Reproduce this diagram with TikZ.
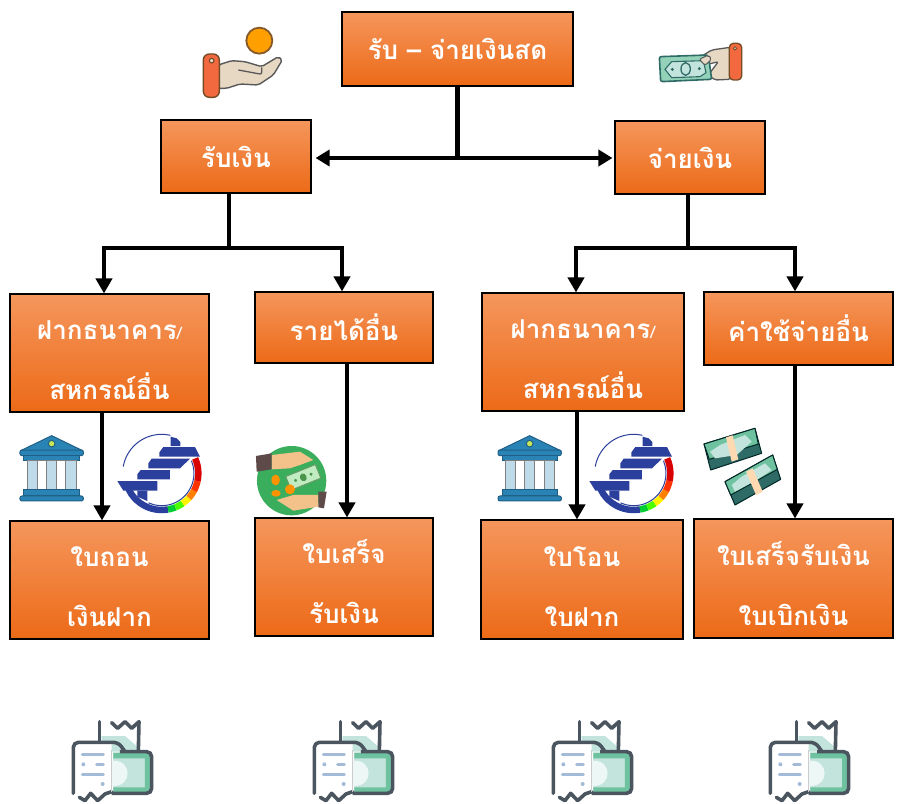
\documentclass[tikz,border=0pt]{standalone}
\usepackage{fontspec}
\usetikzlibrary{arrows.meta}
\newfontfamily\thaifont[Script=Thai]{Loma}
\definecolor{boxtop}{HTML}{F5965C}
\definecolor{boxbot}{HTML}{EC6A17}
\definecolor{ink}{HTML}{4A5560}
\definecolor{mint}{HTML}{6FC2A0}
\definecolor{palemint}{HTML}{C3E4DC}
\definecolor{navy}{HTML}{2B3F9C}
\definecolor{skin}{HTML}{E6D8C3}
\definecolor{cuff}{HTML}{F2693F}
\definecolor{bline}{HTML}{1F5F86}
\definecolor{bblue}{HTML}{2A83B5}
\definecolor{rline}{HTML}{A3BBD9}
\definecolor{givegreen}{HTML}{3AAE5C}
\definecolor{givehand}{HTML}{F2C28A}
\definecolor{givecuff}{HTML}{5E4A48}
\definecolor{billdark}{HTML}{2F6B66}
\tikzset{
  flowbox/.style={draw=black,line width=1.1pt,top color=boxtop,bottom color=boxbot,text=white,
    inner sep=0pt,align=center,font=\thaifont\bfseries\fontsize{26}{60}\selectfont},
  link/.style={line width=4.1pt,draw=black},
  flowarrow/.style={link,-{Triangle[length=15pt,width=16pt]}},
  biarrow/.style={link,{Triangle[length=14pt,width=16pt]}-{Triangle[length=14pt,width=16pt]}},
  zoomed/.style={x=0.3333pt,y=-0.3333pt}
}
\newcommand{\smallslash}{{\fontsize{17}{20}\selectfont\mdseries/}}
\newcommand{\lowerline}{\rule{0pt}{34pt}}
\newcommand{\receipticon}[2]{\begin{scope}[shift={(#1,#2)},zoomed]
  \fill[palemint] (155,125) -- (155,78) -- (225,78) -- (262,110) -- (262,125) -- cycle;
  \draw[ink,line width=3.6pt,line cap=round,line join=round] (148,35) -- (148,95);
  \draw[ink,line width=3.6pt,line cap=round,line join=round] (185,38) -- (203,55) -- (225,35) -- (245,55) -- (267,35) -- (265,125);
  \fill[palemint] (190,128) rectangle (300,248);
  \fill[mint] (190,128) -- (300,128) -- (300,248) -- (190,248) -- (190,232) -- (285,232) -- (285,145) -- (190,145) -- cycle;
  \fill[white!70!palemint] (195,190) circle[radius=38];
  \draw[ink,line width=3.6pt,rounded corners=5pt] (210,125) -- (305,125) -- (305,250) -- (185,250);
  \fill[white] (70,245) -- (70,97) -- (185,97) -- (185,245) -- (165,262) -- (90,265) -- cycle;
  \draw[ink,line width=3.6pt,line cap=round,line join=round,rounded corners=5pt] (70,250) -- (70,97) -- (205,97) -- (225,125);
  \draw[ink,line width=3.6pt,line cap=round,line join=round] (185,245) -- (165,252) -- (143,272) -- (122,250) -- (105,272) -- (88,262);
  \draw[gray!40,line width=0.8pt] (185,120) -- (185,245);
  \draw[rline,line width=3pt,line cap=round] (97,134) -- (160,134) (140,163) -- (160,163) (97,193) -- (160,193);
  \fill[rline] (100,163) circle[radius=6] (158,222) circle[radius=6];
\end{scope}}
\newcommand{\bankicon}[2]{\begin{scope}[shift={(#1,#2)},zoomed,draw=bline,line width=1pt]
  \filldraw[fill=bblue,line join=round] (155,47) -- (248,92) -- (62,92) -- cycle;
  \filldraw[fill=yellow!70!green!70!white] (155,71) circle[radius=10];
  \filldraw[fill=bblue,rounded corners=2pt] (60,90) rectangle (250,107);
  \filldraw[fill=bblue] (72,107) rectangle (238,122);
  \foreach \xa/\xb/\c in {82/112/bblue!30!white,112/140/white,140/170/bblue!30!white,170/198/white,198/230/bblue!30!white}
    {\filldraw[fill=\c,draw=gray] (\xa,122) rectangle (\xb,210);}
  \filldraw[fill=bblue] (72,210) rectangle (238,228);
  \filldraw[fill=bblue,rounded corners=2pt] (60,228) rectangle (250,243);
\end{scope}}
\newcommand{\logoarc}[6]{\draw[#6] plot[smooth,domain=#4:#5,samples=14,variable=\t] ({#1+#3*cos(\t)},{#2+#3*sin(\t)});}
\newcommand{\logoicon}[2]{\begin{scope}[shift={(#1,#2)},zoomed]
  \logoarc{485}{160}{117}{-77}{-170}{navy,line width=1pt}
  \logoarc{485}{160}{97}{114}{-23}{navy,line width=1pt}
  \foreach \a/\b/\c in {165/80/navy,80/68/green!60!teal,68/55/green!70!yellow,55/42/yellow,42/28/orange,28/12/red!60!orange,12/-24/red!85!black}
    {\logoarc{485}{160}{110}{\a}{\b}{\c,line width=6.5pt}}
  \fill[navy] (512,50) -- (530,55) -- (541,66) -- (541,78) -- (512,78) -- cycle;
  \fill[navy] (478,97) -- (490,81) -- (585,81) -- (600,110) -- (478,110) -- cycle;
  \fill[navy] (445,130) -- (455,116) -- (570,116) -- (540,145) -- (445,145) -- cycle;
  \fill[navy] (412,163) -- (422,150) -- (510,150) -- (510,178) -- (412,178) -- cycle;
  \fill[navy] (352,183) -- (472,183) -- (472,212) -- (370,212) -- cycle;
  \fill[navy] (412,212) -- (442,212) -- (442,243) -- (412,230) -- cycle;
\end{scope}}
\newcommand{\giveicon}[2]{\begin{scope}[shift={(#1,#2)},zoomed]
  \fill[givegreen] (875,182) circle[radius=104];
  \fill[givehand] (815,105) -- (900,95) -- (940,120) -- (900,135) -- (870,145) -- (815,148) -- cycle;
  \fill[givehand] (830,240) -- (880,225) -- (955,225) -- (955,260) -- (880,272) -- cycle;
  \fill[givecuff] (768,108) -- (815,100) -- (815,148) -- (770,155) -- cycle;
  \fill[givecuff] (955,215) -- (980,215) -- (972,265) -- (955,262) -- cycle;
  \begin{scope}[shift={(910,172)},rotate=22]
    \filldraw[fill=green!20!white!85!gray,draw=green!35!black!60,line width=1pt] (-48,-22) rectangle (48,22);
    \fill[green!40!black!70] (0,0) ellipse[x radius=10,y radius=12] (-25,0) circle[radius=5] (25,0) circle[radius=5];
  \end{scope}
  \fill[orange!85!yellow] (827,180) ellipse[x radius=13,y radius=16] (828,220) ellipse[x radius=14,y radius=10] (870,208) circle[radius=15];
\end{scope}}
\newcommand{\coinhand}[2]{\begin{scope}[shift={(#1,#2)},zoomed]
  \filldraw[fill=orange!75!yellow,draw=brown!70!black,line width=1.8pt] (208,92) circle[radius=39];
  \filldraw[fill=skin,draw=gray!70!black,line width=1.4pt,line join=round,rounded corners=2pt] (85,165) -- (125,152) -- (165,155) -- (215,170) -- (265,140) -- (277,150) -- (250,195) -- (205,225) -- (150,222) -- (110,235) -- (85,235) -- cycle;
  \draw[gray!70!black,line width=1.3pt,rounded corners=2pt] (145,180) -- (215,193) -- (215,172);
  \filldraw[fill=cuff,draw=brown!60!black,line width=1.4pt,rounded corners=6pt] (40,132) rectangle (88,262);
  \filldraw[fill=skin,draw=brown!60!black,line width=1.1pt] (65,152) circle[radius=7];
\end{scope}}
\newcommand{\cashhand}[2]{\begin{scope}[shift={(#1,#2)},zoomed]
  \filldraw[fill=skin,draw=gray!70!black,line width=1.3pt,rounded corners=2pt,line join=round] (270,52) -- (215,60) -- (175,85) -- (195,105) -- (235,95) -- (205,135) -- (225,150) -- (270,148) -- cycle;
  \filldraw[fill=mint!75!white,draw=billdark,line width=1.6pt,rounded corners=2pt] (58,80) -- (205,75) -- (215,148) -- (62,155) -- cycle;
  \draw[billdark,fill=palemint,line width=1.1pt] (75,118) -- (95,95) -- (190,92) -- (198,128) -- (180,140) -- (95,143) -- cycle;
  \draw[billdark,line width=1.3pt] (137,117) ellipse[x radius=14,y radius=19];
  \fill[billdark] (97,118) circle[radius=5] (178,116) circle[radius=5];
  \filldraw[fill=skin,draw=gray!70!black,line width=1pt,rounded corners=2pt] (178,88) -- (205,75) -- (215,88) -- (195,106) -- cycle;
  \filldraw[fill=cuff,draw=brown!60!black,line width=1.3pt,rounded corners=4pt] (268,40) rectangle (305,150);
  \filldraw[fill=skin,draw=brown!60!black,line width=0.8pt] (285,55) circle[radius=5];
\end{scope}}
\newcommand{\moneybundles}[2]{\begin{scope}[shift={(#1,#2)},zoomed,line join=round]
  \filldraw[fill=billdark,draw=black!70!teal,line width=1pt] (42,72) -- (62,150) -- (215,100) -- (195,25) -- cycle;
  \filldraw[fill=mint,draw=black!70!teal,line width=1pt] (42,72) -- (58,118) -- (205,72) -- (195,25) -- cycle;
  \fill[palemint] (60,95) -- (90,75) -- (165,45) -- (185,65) -- (140,105) -- (75,115) -- cycle;
  \fill[orange!30!white] (108,52) -- (128,46) -- (145,118) -- (125,125) -- cycle;
  \filldraw[fill=billdark,draw=black!70!teal,line width=1pt] (105,185) -- (135,255) -- (272,178) -- (248,105) -- cycle;
  \filldraw[fill=mint,draw=black!70!teal,line width=1pt] (105,185) -- (122,225) -- (262,148) -- (248,105) -- cycle;
  \fill[palemint] (125,195) -- (155,170) -- (225,130) -- (245,150) -- (200,180) -- (135,215) -- cycle;
  \fill[orange!30!white] (168,155) -- (188,145) -- (218,215) -- (198,225) -- cycle;
\end{scope}}
\begin{document}
\begin{tikzpicture}[x=1pt,y=-1pt]
\useasboundingbox (0,0) rectangle (899,803);
\fill[white] (0,0) rectangle (899,803);
\coinhand{190}{10}
\cashhand{640}{30}
\bankicon{0}{420}
\logoicon{0}{420}
\giveicon{0}{420}
\bankicon{478}{420}
\logoicon{472}{420}
\moneybundles{690}{420}
\receipticon{50}{710}
\receipticon{291}{710}
\receipticon{530}{710}
\receipticon{747}{710}
% boxes
\node[flowbox,minimum width=231pt,minimum height=74pt] (top) at (457.5,49) {รับ – จ่ายเงินสด};
\node[flowbox,minimum width=150pt,minimum height=73pt] (rub) at (236,156.5) {รับเงิน};
\node[flowbox,minimum width=150pt,minimum height=73pt] (jai) at (690,157.5) {จ่ายเงิน};
\node[flowbox,minimum width=199pt,minimum height=118pt] (fl) at (109.5,353) {\lowerline ฝากธนาคาร\smallslash\\สหกรณ์อื่น};
\node[flowbox,minimum width=178pt,minimum height=71pt] (inc) at (344,327.5) {รายได้อื่น};
\node[flowbox,minimum width=202pt,minimum height=118pt] (fr) at (583,352) {\lowerline ฝากธนาคาร\smallslash\\สหกรณ์อื่น};
\node[flowbox,minimum width=189pt,minimum height=73pt] (exp) at (798.5,328.5) {ค่าใช้จ่ายอื่น};
\node[flowbox,minimum width=199pt,minimum height=118pt] (d1) at (109.5,580) {\lowerline ใบถอน\\เงินฝาก};
\node[flowbox,minimum width=178pt,minimum height=118pt] (d2) at (344,577) {\lowerline ใบเสร็จ\\รับเงิน};
\node[flowbox,minimum width=202pt,minimum height=119pt] (d3) at (582,579.5) {\lowerline ใบโอน\\ใบฝาก};
\node[flowbox,minimum width=199pt,minimum height=119pt] (d4) at (793.5,578.5) {\lowerline ใบเสร็จรับเงิน\\ใบเบิกเงิน};
% connectors
\coordinate (hub) at (top.south |- 0,158);
\coordinate (lbar) at ([xshift=-7pt]rub.south |- 0,248);
\coordinate (rbar) at ([xshift=-2pt]jai.south |- 0,248);
\draw[link] (top.south) -- (hub);
\draw[biarrow] ([xshift=4pt]rub.east |- hub) -- ([xshift=-2pt]jai.west |- hub);
\draw[link] ([xshift=-7pt]rub.south) -- (lbar);
\draw[link] ([xshift=-2pt]jai.south) -- (rbar);
\draw[flowarrow] (lbar) -| ([xshift=-5.5pt]fl.north);
\draw[flowarrow] (lbar) -| ([xshift=-2pt]inc.north);
\draw[flowarrow] (rbar) -| ([xshift=-7pt]fr.north);
\draw[flowarrow] (rbar) -| ([xshift=-3.5pt]exp.north);
\draw[flowarrow] ([xshift=-7.5pt]fl.south) -- ([xshift=-7.5pt]d1.north);
\draw[flowarrow] ([xshift=3pt]inc.south) -- ([xshift=3pt]d2.north);
\draw[flowarrow] ([xshift=-6pt]fr.south) -- ([xshift=-5pt]d3.north);
\draw[flowarrow] ([xshift=-3.5pt]exp.south) -- ([xshift=1.5pt]d4.north);
\end{tikzpicture}
\end{document}
